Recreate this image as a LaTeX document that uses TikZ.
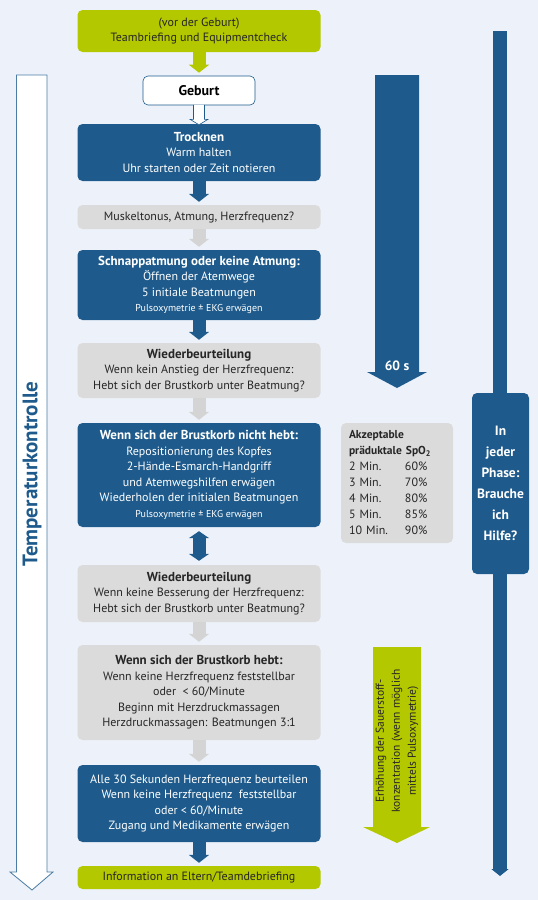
\documentclass[tikz,border=0pt]{standalone}
\usepackage{fontspec}
\setmainfont{PT Sans}
\usetikzlibrary{arrows.meta,calc,positioning}
\definecolor{bgblue}{RGB}{237,242,250}
\definecolor{nlsblue}{RGB}{30,91,140}
\definecolor{nlsgreen}{RGB}{180,200,0}
\definecolor{nlsgray}{RGB}{219,219,219}
\definecolor{arrgray}{RGB}{212,212,212}
\tikzset{
  box/.style      = {rounded corners=5pt, minimum width=243pt, align=center, inner sep=2pt,
                     font=\fontsize{12}{15.5}\selectfont},
  bluebox/.style  = {box, fill=nlsblue, text=white},
  graybox/.style  = {box, fill=nlsgray, text=black!85},
  greenbox/.style = {box, fill=nlsgreen, text=black!85},
  flow/.style     = {line width=13pt, -{Triangle[width=20pt,length=8pt]}, shorten >=3pt},
  dflow/.style    = {line width=13pt, {Triangle[width=20pt,length=7pt]}-{Triangle[width=20pt,length=7pt]},
                     shorten >=4pt, shorten <=4pt},
}
\newcommand{\smalltxt}[1]{{\fontsize{10}{12}\selectfont #1}}
\newcommand{\hd}[1]{{\fontsize{13}{15.5}\selectfont\bfseries #1}}

\begin{document}
\begin{tikzpicture}[x=1pt,y=-1pt]
  \useasboundingbox (0,0) rectangle (538,900);
  \fill[bgblue] (0,0) rectangle (538,900);

  % side arrows
  \draw[nlsblue!80, line width=0.8pt, fill=white] (16.5,75) -- (47,75) -- (47,872) -- (53,872)
    -- (32,890) -- (10,872) -- (16.5,872) -- cycle;
  \node[rotate=90, text=nlsblue, font=\bfseries\fontsize{21}{24}\selectfont] (temp) at (32,474) {Temperaturkontrolle};

  \fill[nlsblue] (375,75) -- (419,75) -- (419,372) -- (427,372) -- (397,388) -- (367,372) -- (375,372) -- cycle;
  \node[text=white, font=\bfseries\fontsize{13.5}{15}\selectfont] (sixty) at (397,366) {60 s};

  \fill[nlsgreen] (373,647) -- (421,647) -- (421,827) -- (430,827) -- (397,843) -- (363,827) -- (373,827) -- cycle;
  \node[rotate=90, align=center, text=black!85, font=\fontsize{11.5}{16}\selectfont] (sauer) at (397,741)
    {Erhöhung der Sauerstoff-\\konzentration (wenn möglich\\mittels Pulsoxymetrie)};

  \coordinate (bartop) at (500,31);
  \coordinate (barend) at (500,876);
  \draw[nlsblue, line width=14pt, -{Triangle[width=17pt,length=7pt]}] (bartop) -- (barend);
  \node[fill=nlsblue, rounded corners=5pt, minimum width=57pt, minimum height=181pt, text=white,
        align=center, font=\bfseries\fontsize{13.5}{21}\selectfont] (hilfe) at (500.5,483.5)
    {In\\jeder\\Phase:\\Brauche\\ich\\Hilfe?};

  \node[fill=nlsgray, rounded corners=5pt, text width=96pt, inner xsep=8pt, minimum height=120pt,
        align=left, text=black!85, font=\fontsize{12}{16}\selectfont] (spo) at (397,483)
    {\begin{tabular}{@{}p{56pt}@{}l@{}}
      \multicolumn{2}{@{}l@{}}{\fontsize{11.5}{16}\selectfont\bfseries Akzeptable}\\
      \multicolumn{2}{@{}l@{}}{\fontsize{11.5}{16}\selectfont\bfseries präduktale SpO\textsubscript{2}}\\
      2 Min.  & 60\%\\
      3 Min.  & 70\%\\
      4 Min.  & 80\%\\
      5 Min.  & 85\%\\
      10 Min. & 90\%
    \end{tabular}};

  % main flow
  \node[greenbox, minimum height=42pt] (brief) at (199,31)
    {(vor der Geburt)\\Teambriefing und Equipmentcheck};
  \node[draw=nlsblue, fill=white, line width=0.6pt, rounded corners=5pt, minimum width=112pt,
        minimum height=29pt, font=\bfseries\fontsize{14}{15}\selectfont] (geburt) at (199,90.5) {Geburt};
  \node[bluebox, minimum height=57pt] (trock) at (199,152.5)
    {\hd{Trocknen}\\Warm halten\\Uhr starten oder Zeit notieren};
  \node[graybox, minimum height=24pt] (muskel) at (199,217)
    {Muskeltonus, Atmung, Herzfrequenz?};
  \node[bluebox, minimum height=70pt] (schnapp) at (199,285)
    {\hd{Schnappatmung oder keine Atmung:}\\Öffnen der Atemwege\\5 initiale Beatmungen\\
     \smalltxt{Pulsoxymetrie ± EKG erwägen}};
  \node[graybox, minimum height=55pt] (wieder1) at (199,370.5)
    {\hd{Wiederbeurteilung}\\Wenn kein Anstieg der Herzfrequenz:\\Hebt sich der Brustkorb unter Beatmung?};
  \node[bluebox, minimum height=104pt] (brust) at (199,475)
    {\hd{Wenn sich der Brustkorb nicht hebt:}\\Repositionierung des Kopfes\\2-Hände-Esmarch-Handgriff\\
     und Atemwegshilfen erwägen\\Wiederholen der initialen Beatmungen\\\smalltxt{Pulsoxymetrie ± EKG erwägen}};
  \node[graybox, minimum height=57pt] (wieder2) at (199,593.5)
    {\hd{Wiederbeurteilung}\\Wenn keine Besserung der Herzfrequenz:\\Hebt sich der Brustkorb unter Beatmung?};
  \node[graybox, minimum height=95pt] (hebt) at (199,692.5)
    {\hd{Wenn sich der Brustkorb hebt:}\\Wenn keine Herzfrequenz feststellbar\\oder\ \ < 60/Minute\\
     Beginn mit Herzdruckmassagen\\Herzdruckmassagen: Beatmungen 3:1};
  \node[bluebox, minimum height=77pt] (alle) at (199,803.5)
    {Alle 30 Sekunden Herzfrequenz beurteilen\\Wenn keine Herzfrequenz\ \ feststellbar\\oder < 60/Minute\\
     Zugang und Medikamente erwägen};
  \node[greenbox, minimum height=23pt] (info) at (199,877.5)
    {Information an Eltern/Teamdebriefing};

  \draw[flow, nlsgreen] (brief) -- (geburt);
  \draw[nlsblue, line width=0.6pt, fill=white] ($(geburt.south)+(-5.5,-0.5)$) -- ($(geburt.south)+(-5.5,14)$)
    -- ($(geburt.south)+(-9,14)$) -- ($(trock.north)+(0,1)$) -- ($(geburt.south)+(9,14)$)
    -- ($(geburt.south)+(5.5,14)$) -- ($(geburt.south)+(5.5,-0.5)$);
  \draw[flow, nlsblue] (trock) -- (muskel);
  \draw[flow, arrgray] (muskel) -- (schnapp);
  \draw[flow, nlsblue] (schnapp) -- (wieder1);
  \draw[flow, arrgray] (wieder1) -- (brust);
  \draw[dflow, nlsblue] (brust) -- (wieder2);
  \draw[flow, arrgray] (wieder2) -- (hebt);
  \draw[flow, arrgray] (hebt) -- (alle);
  \draw[flow, nlsblue] (alle) -- (info);
\end{tikzpicture}
\end{document}
